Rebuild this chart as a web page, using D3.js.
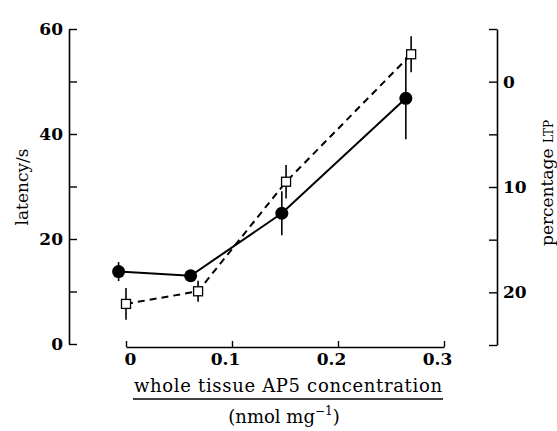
<!DOCTYPE html>
<html>
<head>
<meta charset="utf-8">
<script src="https://cdn.jsdelivr.net/npm/d3@7"></script>
<style>
  body { margin: 0; background: #fff; }
  svg { display: block; }
</style>
</head>
<body>
<div id="chart"></div>
<script>
// Chart size
var chartWidth = 557;
var chartHeight = 431;

// Latency (filled circles, left axis)
var latencyConc = [-0.007, 0.061, 0.147, 0.264];
var latencyValues = [13.8, 13.0, 24.9, 46.8];
var latencyErrors = [1.8, 1.1, 4.2, 7.8];

// Percentage LTP (open squares, right axis, inverted)
var ltpConc = [0.0, 0.068, 0.151, 0.269];
var ltpValues = [21.1, 19.9, 9.5, -2.6];
var ltpErrors = [1.5, 1.0, 1.6, 1.7];

// Tick values
var xTicks = [0, 0.1, 0.2, 0.3];
var leftTicks = [0, 10, 20, 30, 40, 50, 60];
var leftLabels = [0, 20, 40, 60];
var rightTicks = [-5, 0, 5, 10, 15, 20, 25];
var rightLabels = [0, 10, 20];

var serif = "'DejaVu Serif', 'Liberation Serif', serif";

var svg = d3.select("#chart")
    .append("svg")
    .attr("width", chartWidth)
    .attr("height", chartHeight);

// Scales
var x = d3.scaleLinear().domain([0, 0.3]).range([126, 444]);
var yLeft = d3.scaleLinear().domain([0, 60]).range([344, 29]);
var yRight = d3.scaleLinear().domain([-5, 25]).range([29, 345]);

// Left axis, ticks pointing inwards
var leftAxis = d3.axisLeft(yLeft)
    .tickValues(leftTicks)
    .tickSizeInner(-8)
    .tickSizeOuter(0)
    .tickPadding(6)
    .tickFormat(d => leftLabels.indexOf(d) >= 0 ? d : "");

var gLeft = svg.append("g")
    .attr("transform", "translate(69,0)")
    .call(leftAxis);

// Right axis
var rightAxis = d3.axisRight(yRight)
    .tickValues(rightTicks)
    .tickSizeInner(-8)
    .tickSizeOuter(0)
    .tickPadding(6)
    .tickFormat(d => rightLabels.indexOf(d) >= 0 ? d : "");

var gRight = svg.append("g")
    .attr("transform", "translate(497,0)")
    .call(rightAxis);

// Bottom axis, ticks pointing up
var bottomAxis = d3.axisBottom(x)
    .tickValues(xTicks)
    .tickSizeInner(-6)
    .tickSizeOuter(0)
    .tickPadding(6)
    .tickFormat(d => d === 0 ? "0" : d3.format(".1f")(d));

var gBottom = svg.append("g")
    .attr("transform", "translate(0,347)")
    .call(bottomAxis);

// Shared axis styling
[gLeft, gRight, gBottom].forEach(g => {
    g.select(".domain").attr("stroke", "#000").attr("stroke-width", 1.6);
    g.selectAll(".tick line").attr("stroke", "#000").attr("stroke-width", 1.4);
    g.selectAll(".tick text")
        .attr("fill", "#000")
        .attr("font-family", serif)
        .attr("font-weight", "bold")
        .attr("font-size", "17px");
});

gBottom.selectAll(".tick text")
    .attr("dx", d => d === 0 ? 4 : -7);

// Axis titles
svg.append("text")
    .attr("transform", "translate(28,187) rotate(-90)")
    .attr("text-anchor", "middle")
    .attr("font-family", serif)
    .attr("font-size", "17px")
    .text("latency/s");

var rightTitle = svg.append("text")
    .attr("transform", "translate(553,183) rotate(-90)")
    .attr("text-anchor", "middle")
    .attr("font-family", serif)
    .attr("font-size", "17px");
rightTitle.append("tspan").text("percentage ");
rightTitle.append("tspan").attr("font-size", "12px").text("LTP");

svg.append("text")
    .attr("x", 288)
    .attr("y", 392)
    .attr("text-anchor", "middle")
    .attr("font-family", serif)
    .attr("font-size", "18px")
    .attr("textLength", 308)
    .attr("lengthAdjust", "spacing")
    .text("whole tissue AP5 concentration");

svg.append("line")
    .attr("x1", 133).attr("x2", 443)
    .attr("y1", 399).attr("y2", 399)
    .attr("stroke", "#000")
    .attr("stroke-width", 1.3);

var unitText = svg.append("text")
    .attr("x", 284)
    .attr("y", 423)
    .attr("text-anchor", "middle")
    .attr("font-family", serif)
    .attr("font-size", "18px");
unitText.append("tspan").text("(nmol mg");
unitText.append("tspan").attr("font-size", "12px").attr("dy", -8).text("\u22121");
unitText.append("tspan").attr("dy", 8).text(")");

// Build point data
var latencyData = latencyConc.map((c, i) => ({ c: c, v: latencyValues[i], e: latencyErrors[i] }));
var ltpData = ltpConc.map((c, i) => ({ c: c, v: ltpValues[i], e: ltpErrors[i] }));

// Lines
var latencyLine = d3.line().x(d => x(d.c)).y(d => yLeft(d.v));
var ltpLine = d3.line().x(d => x(d.c)).y(d => yRight(d.v));

svg.append("path")
    .datum(latencyData)
    .attr("fill", "none")
    .attr("stroke", "#000")
    .attr("stroke-width", 2)
    .attr("d", latencyLine);

svg.append("path")
    .datum(ltpData)
    .attr("fill", "none")
    .attr("stroke", "#000")
    .attr("stroke-width", 2)
    .attr("stroke-dasharray", "7,5")
    .attr("d", ltpLine);

// Error bars
svg.selectAll("line.errLatency")
    .data(latencyData)
    .enter()
    .append("line")
    .attr("class", "errLatency")
    .attr("x1", d => x(d.c)).attr("x2", d => x(d.c))
    .attr("y1", d => yLeft(d.v - d.e)).attr("y2", d => yLeft(d.v + d.e))
    .attr("stroke", "#000")
    .attr("stroke-width", 1.6);

svg.selectAll("line.errLtp")
    .data(ltpData)
    .enter()
    .append("line")
    .attr("class", "errLtp")
    .attr("x1", d => x(d.c)).attr("x2", d => x(d.c))
    .attr("y1", d => yRight(d.v - d.e)).attr("y2", d => yRight(d.v + d.e))
    .attr("stroke", "#000")
    .attr("stroke-width", 1.6);

// Markers
svg.selectAll("circle.latency")
    .data(latencyData)
    .enter()
    .append("circle")
    .attr("class", "latency")
    .attr("cx", d => x(d.c))
    .attr("cy", d => yLeft(d.v))
    .attr("r", 6.5)
    .attr("fill", "#000");

var sq = 9;
svg.selectAll("rect.ltp")
    .data(ltpData)
    .enter()
    .append("rect")
    .attr("class", "ltp")
    .attr("x", d => x(d.c) - sq / 2)
    .attr("y", d => yRight(d.v) - sq / 2)
    .attr("width", sq)
    .attr("height", sq)
    .attr("fill", "#fff")
    .attr("stroke", "#000")
    .attr("stroke-width", 1.3);
</script>
</body>
</html>
